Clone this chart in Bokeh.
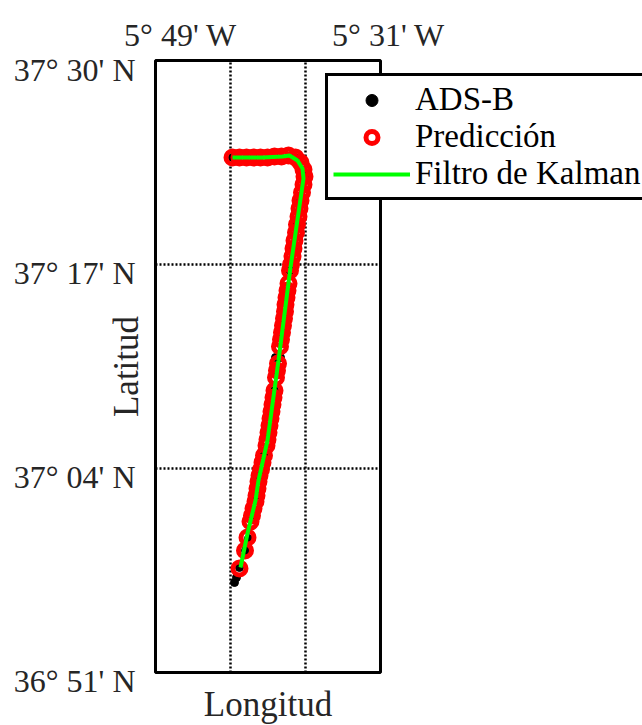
import math

from bokeh.embed import file_html
from bokeh.models import Label, Legend, LegendItem, Range1d
from bokeh.plotting import figure
from bokeh.resources import INLINE

# ---- map extent and graticule (degrees, west longitudes negative) ----
lon_limits = [-5.81667, -5.51667]      # 5°49'W .. 5°31'W
lat_limits = [36.85, 37.5]             # 36°51'N .. 37°30'N
meridians = [-5.71667, -5.61667]       # 5°43'W, 5°37'W
parallels = [37.06667, 37.28333]       # 37°04'N, 37°17'N

lon_tick_values = [-5.81667, -5.51667]
lon_tick_labels = ["5° 49' W", "5° 31' W"]
lat_tick_values = [37.5, 37.28333, 37.06667, 36.85]
lat_tick_labels = ["37° 30' N", "37° 17' N", "37° 04' N", "36° 51' N"]

# ---- ADS-B measurements ----
adsb_lon = [-5.71400, -5.68600, -5.65800, -5.63000, -5.61800, -5.62333,
            -5.62800, -5.63267, -5.63733, -5.64200, -5.64533, -5.64800,
            -5.65667, -5.65000, -5.65467, -5.65800, -5.66200, -5.66600,
            -5.67200, -5.67800, -5.68200, -5.68800, -5.69267, -5.69667,
            -5.70467, -5.70867, -5.71133]
adsb_lat = [37.39697, 37.39697, 37.39803, 37.39697, 37.37679, 37.35130,
            37.32581, 37.30032, 37.27695, 37.24827, 37.22597, 37.21110,
            37.18454, 37.18454, 37.17074, 37.14949, 37.12719, 37.10488,
            37.08045, 37.05921, 37.03797, 37.01673, 36.99230, 36.97955,
            36.96150, 36.95087, 36.94556]

# ---- predicted positions ----
pred_lon = [-5.71400, -5.70467, -5.69533, -5.68600, -5.67667, -5.66733,
            -5.65800, -5.64867, -5.63933, -5.63000, -5.62333, -5.61933,
            -5.61800, -5.61933, -5.62133, -5.62333, -5.62467, -5.62600,
            -5.62800, -5.62933, -5.63133, -5.63267, -5.63400, -5.63600,
            -5.63733, -5.63933, -5.64067, -5.64200, -5.64333, -5.64400,
            -5.64533, -5.64667, -5.64800, -5.64933, -5.65067, -5.65333,
            -5.65467, -5.65600, -5.65800, -5.65933, -5.66067, -5.66200,
            -5.66333, -5.66467, -5.66600, -5.66733, -5.66867, -5.67200,
            -5.67400, -5.67600, -5.67800, -5.67933, -5.68067, -5.68200,
            -5.68333, -5.68600, -5.68800, -5.69000, -5.69400, -5.69733,
            -5.70467]
pred_lat = [37.39697, 37.39697, 37.39697, 37.39697, 37.39697, 37.39697,
            37.39803, 37.39803, 37.39910, 37.39697, 37.39166, 37.38423,
            37.37679, 37.36829, 37.35980, 37.35130, 37.34280, 37.33431,
            37.32581, 37.31731, 37.30882, 37.30032, 37.29182, 37.28332,
            37.27695, 37.26314, 37.25571, 37.24827, 37.24084, 37.23340,
            37.22597, 37.21853, 37.21110, 37.20366, 37.19623, 37.17817,
            37.17074, 37.16330, 37.14949, 37.14206, 37.13462, 37.12719,
            37.11975, 37.11232, 37.10488, 37.09745, 37.09108, 37.08045,
            37.07302, 37.06558, 37.05921, 37.05284, 37.04540, 37.03797,
            37.03160, 37.02416, 37.01673, 37.01035, 36.99336, 36.97955,
            36.96043]

# ---- Kalman filter track ----
kalman_lon = [-5.71400, -5.67400, -5.64733, -5.63800, -5.62733, -5.62067,
              -5.61933, -5.63667, -5.65267, -5.66733, -5.67933, -5.68333,
              -5.69400, -5.70333]
kalman_lat = [37.39697, 37.39697, 37.39803, 37.39910, 37.39378, 37.38530,
              37.37470, 37.28014, 37.18137, 37.09640, 37.05392, 37.03268,
              36.99763, 36.96152]

# visible window around the map (map frame plus room for labels and legend)
view_lon = [-6.02333, -5.16733]
view_lat = [36.79368, 37.56373]

SERIF = "Liberation Serif"
TEXT = "#262626"

p = figure(frame_width=642, frame_height=725, min_border=0,
           x_range=Range1d(*view_lon), y_range=Range1d(*view_lat),
           x_axis_location=None, y_axis_location=None,
           toolbar_location=None, output_backend="svg",
           background_fill_color="white", border_fill_color="white")
for g in p.grid:
    g.visible = False
p.outline_line_color = None

# dotted graticule
p.segment(x0=meridians, x1=meridians,
          y0=[lat_limits[0]] * len(meridians), y1=[lat_limits[1]] * len(meridians),
          line_color="black", line_width=2.5, line_dash="2 2")
p.segment(x0=[lon_limits[0]] * len(parallels), x1=[lon_limits[1]] * len(parallels),
          y0=parallels, y1=parallels,
          line_color="black", line_width=2.5, line_dash="2 2")

# map frame
p.quad(left=[lon_limits[0]], right=[lon_limits[1]],
       bottom=[lat_limits[0]], top=[lat_limits[1]],
       fill_alpha=0, line_color="black", line_width=3)

r_adsb = p.scatter(adsb_lon, adsb_lat, marker="circle", size=8,
                   fill_color="black", line_color="black")
r_pred = p.scatter(pred_lon, pred_lat, marker="circle", size=13,
                   fill_alpha=0, line_color="#ff0000", line_width=5)
r_kal = p.line(kalman_lon, kalman_lat, line_color="#00ff00", line_width=4)

legend = Legend(items=[LegendItem(label="ADS-B", renderers=[r_adsb]),
                       LegendItem(label="Predicción", renderers=[r_pred]),
                       LegendItem(label="Filtro de Kalman", renderers=[r_kal])],
                location=(325, 525), orientation="vertical",
                label_text_font=SERIF, label_text_font_size="33px",
                label_text_color="black",
                glyph_width=77, glyph_height=30, label_height=30,
                label_standoff=5, padding=5, spacing=0, margin=0,
                border_line_color="black", border_line_width=3,
                border_line_alpha=1,
                background_fill_color="white", background_fill_alpha=1)
p.add_layout(legend, "center")

# meridian labels above the frame
lon_label_shift = [25, 8]
for v, t, dx in zip(lon_tick_values, lon_tick_labels, lon_label_shift):
    p.add_layout(Label(x=v, y=lat_limits[1], text=t, x_offset=dx, y_offset=26,
                       text_align="center", text_baseline="alphabetic",
                       text_font=SERIF, text_font_size="32px", text_color=TEXT))

# parallel labels left of the frame
for v, t in zip(lat_tick_values, lat_tick_labels):
    p.add_layout(Label(x=lon_limits[0], y=v, text=t, x_offset=-20, y_offset=-9,
                       text_align="right", text_baseline="alphabetic",
                       text_font=SERIF, text_font_size="32px", text_color=TEXT))

p.add_layout(Label(x=sum(lon_limits) / 2, y=lat_limits[0], text="Longitud",
                   y_offset=-32, text_align="center", text_baseline="alphabetic",
                   text_font=SERIF, text_font_size="35px", text_color=TEXT))
p.add_layout(Label(x=lon_limits[0], y=sum(lat_limits) / 2, text="Latitud",
                   x_offset=-29, angle=math.pi / 2, text_align="center",
                   text_baseline="alphabetic",
                   text_font=SERIF, text_font_size="35px", text_color=TEXT))

open("out.html", "w").write(file_html(p, INLINE))
